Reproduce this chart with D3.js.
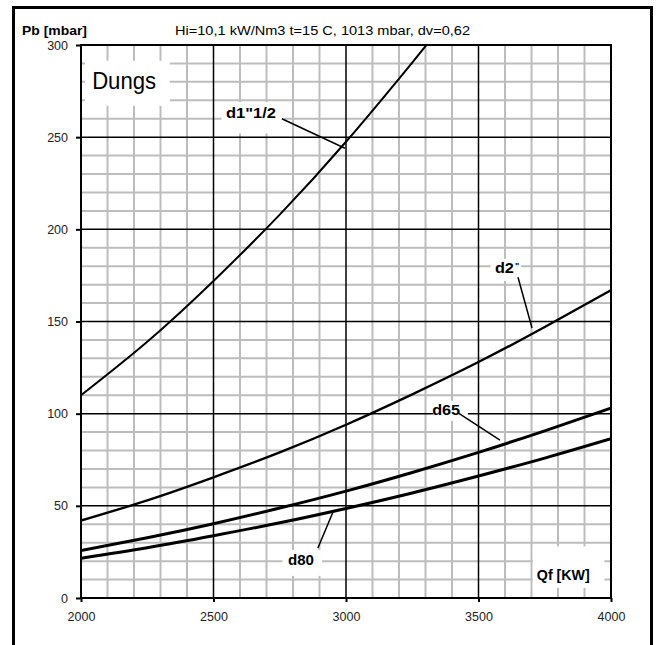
<!DOCTYPE html>
<html>
<head>
<meta charset="utf-8">
<script src="https://cdn.jsdelivr.net/npm/d3@7"></script>
<style>
  html, body { margin: 0; padding: 0; background: #fff; }
  svg { display: block; font-family: 'Liberation Sans', Arial, sans-serif; }
</style>
</head>
<body>
<svg id="chart" width="658" height="645"></svg>
<script>
// ---- data ----
const flowKW = [2000, 2250, 2500, 2750, 3000, 3250, 3500, 3750, 4000];
const d1_1_2 = [110, 139, 172, 208, 247.5, 290.5, null, null, null];
const d1_1_2Tail = [[3250, 290.5], [3320, 303]];   // curve leaves the top of the plot
const d2 = [42, 53, 65.5, 79, 94, 110.5, 128, 147, 167];
const d65 = [25.8, 32.7, 40.3, 48.8, 58, 68.1, 79, 90.7, 103];
const d80 = [21.6, 27.3, 33.8, 40.8, 48.6, 57, 66.2, 75.9, 86.4];
const xTicks = [2000, 2500, 3000, 3500, 4000];
const yTicks = [0, 50, 100, 150, 200, 250, 300];
const title = 'Hi=10,1 kW/Nm3  t=15 C, 1013 mbar, dv=0,62';

const svg = d3.select('#chart');

// outer frame
svg.append('rect').attr('x', 13.5).attr('y', 7.5).attr('width', 638).attr('height', 660)
  .attr('fill', 'none').attr('stroke', '#000').attr('stroke-width', 3);

const x = d3.scaleLinear().domain([2000, 4000]).range([81, 611]);
const y = d3.scaleLinear().domain([0, 300]).range([598, 45]);

// ---- grid ----
const grid = svg.append('g');
grid.selectAll('line.vmin').data(d3.range(2100, 4000, 100).filter(d => d % 500))
  .enter().append('line')
  .attr('x1', d => x(d)).attr('x2', d => x(d)).attr('y1', y(0)).attr('y2', y(300))
  .attr('stroke', '#bdbdbd').attr('stroke-width', 2);
grid.selectAll('line.hmin').data(d3.range(10, 300, 10).filter(d => d % 50))
  .enter().append('line')
  .attr('y1', d => y(d)).attr('y2', d => y(d)).attr('x1', x(2000)).attr('x2', x(4000))
  .attr('stroke', '#bdbdbd').attr('stroke-width', 2);
grid.selectAll('line.vmaj').data(xTicks.slice(1, -1))
  .enter().append('line')
  .attr('x1', d => x(d)).attr('x2', d => x(d)).attr('y1', y(0)).attr('y2', y(300))
  .attr('stroke', '#000').attr('stroke-width', 1.5);
grid.selectAll('line.hmaj').data(yTicks.slice(1, -1))
  .enter().append('line')
  .attr('y1', d => y(d)).attr('y2', d => y(d)).attr('x1', x(2000)).attr('x2', x(4000))
  .attr('stroke', '#000').attr('stroke-width', 1.5);

// ---- white label boxes (drawn over the grid) ----
const boxes = [
  [2015, 2335, 291.5, 267],   // Dungs
  [2530, 2765, 269, 252],     // d1"1/2
  [3545, 3660, 184, 172],     // d2"
  [3330, 3460, 107, 96],      // d65
  [2760, 2910, 26, 12],       // d80
  [3705, 3975, 28, 5.5]       // Qf [KW]
];
svg.append('g').selectAll('rect').data(boxes).enter().append('rect')
  .attr('x', d => x(d[0])).attr('width', d => x(d[1]) - x(d[0]))
  .attr('y', d => y(d[2])).attr('height', d => y(d[3]) - y(d[2]))
  .attr('fill', '#fff');

// ---- frame of plot + ticks ----
svg.append('rect').attr('x', x(2000)).attr('y', y(300))
  .attr('width', x(4000) - x(2000)).attr('height', y(0) - y(300))
  .attr('fill', 'none').attr('stroke', '#000').attr('stroke-width', 2);

const yAxis = d3.axisLeft(y).tickValues(yTicks).tickSize(5).tickPadding(8);
const gy = svg.append('g').attr('transform', `translate(${x(2000)},0)`).call(yAxis);
const xAxis = d3.axisBottom(x).tickValues(xTicks).tickSize(4).tickPadding(10).tickFormat(d3.format('d'));
const gx = svg.append('g').attr('transform', `translate(0,${y(0)})`).call(xAxis);
[gx, gy].forEach(g => {
  g.select('.domain').remove();
  g.selectAll('.tick line').attr('stroke', '#000').attr('stroke-width', 2);
  g.selectAll('.tick text').attr('fill', '#222').style('font-size', '12.5px')
    .style('font-family', "'Liberation Sans', Arial, sans-serif");
});

// ---- curves ----
const line = d3.line().defined(d => d[1] != null)
  .x(d => x(d[0])).y(d => y(d[1])).curve(d3.curveNatural);

svg.append('clipPath').attr('id', 'plotClip').append('rect')
  .attr('x', x(2000)).attr('y', y(300)).attr('width', x(4000) - x(2000)).attr('height', y(0) - y(300));

const curves = [
  { pts: flowKW.map((q, i) => [q, d1_1_2[i]]).filter(p => p[1] != null).concat(d1_1_2Tail.slice(1)), w: 2 },
  { pts: flowKW.map((q, i) => [q, d2[i]]), w: 2.4 },
  { pts: flowKW.map((q, i) => [q, d65[i]]), w: 3 },
  { pts: flowKW.map((q, i) => [q, d80[i]]), w: 3 }
];
const cg = svg.append('g').attr('clip-path', 'url(#plotClip)');
curves.forEach(c => {
  cg.append('path').attr('d', line(c.pts)).attr('fill', 'none')
    .attr('stroke', '#000').attr('stroke-width', c.w).attr('stroke-linejoin', 'round');
});

// ---- leader lines ----
const leaders = [
  [2758, 260, 2996, 244],
  [3649, 174, 3702, 146.5],
  [3423, 100.4, 3581, 85.7],
  [2894, 27.1, 2951, 46.7]
];
svg.append('g').selectAll('line').data(leaders).enter().append('line')
  .attr('x1', d => x(d[0])).attr('y1', d => y(d[1]))
  .attr('x2', d => x(d[2])).attr('y2', d => y(d[3]))
  .attr('stroke', '#000').attr('stroke-width', 1.5);

// ---- curve labels ----
const labels = [
  { q: 2547, v: 260.4, text: 'd1"1/2', len: 50 },
  { q: 3562, v: 176.3, text: 'd2', len: 19, mark: true },
  { q: 3325, v: 99.3, text: 'd65', len: 28 },
  { q: 2781, v: 17.9, text: 'd80', len: 26 }
];
labels.forEach(l => {
  const t = svg.append('text').attr('x', x(l.q)).attr('y', y(l.v))
    .attr('font-weight', 'bold').attr('font-size', 15.5)
    .attr('textLength', l.len).attr('lengthAdjust', 'spacingAndGlyphs')
    .text(l.text);
  if (l.mark) {
    svg.append('text').attr('x', x(l.q) + l.len + 1).attr('y', y(l.v) - 4)
      .attr('font-size', 9).attr('font-weight', 'bold').text('"');
  }
});

// ---- texts ----
svg.append('text').attr('x', 22).attr('y', 35).attr('font-weight', 'bold').attr('font-size', 13)
  .attr('textLength', 65).attr('lengthAdjust', 'spacingAndGlyphs').text('Pb [mbar]');
svg.append('text').attr('x', 175).attr('y', 35).attr('font-size', 12.5)
  .attr('textLength', 295).attr('lengthAdjust', 'spacingAndGlyphs').text(title);
svg.append('text').attr('x', x(2042)).attr('y', y(276)).attr('font-size', 23)
  .attr('textLength', 64).attr('lengthAdjust', 'spacingAndGlyphs').text('Dungs');
svg.append('text').attr('x', x(3720)).attr('y', y(9.8)).attr('font-size', 15).attr('font-weight', 'bold')
  .attr('textLength', 53).attr('lengthAdjust', 'spacingAndGlyphs').text('Qf [KW]');
</script>
</body>
</html>
